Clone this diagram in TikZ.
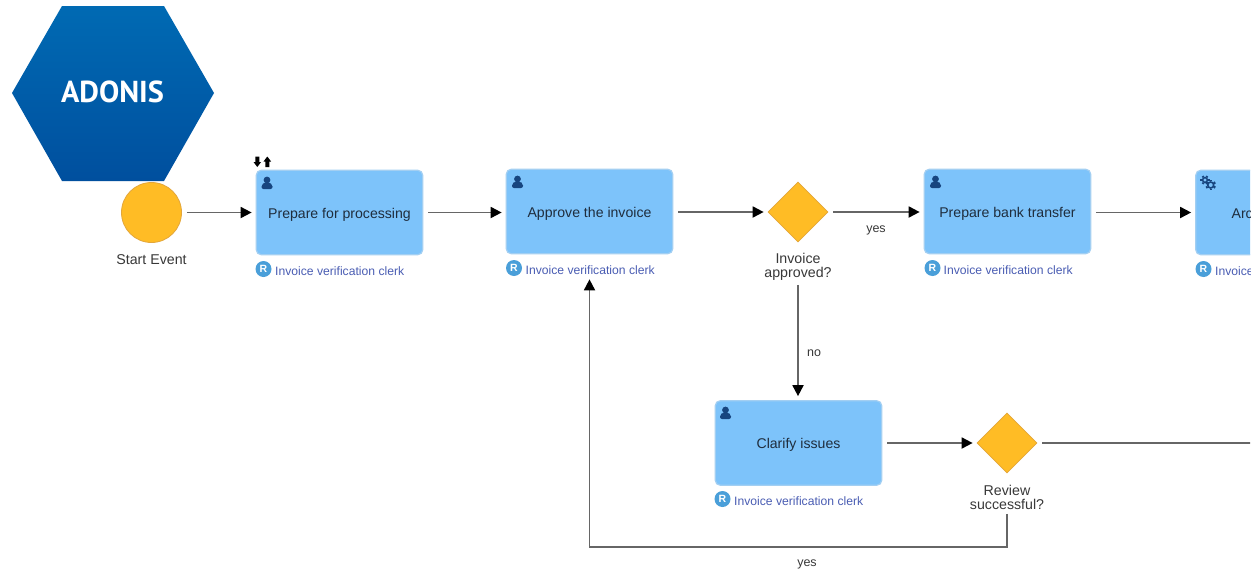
\documentclass[tikz,border=0pt]{standalone}
\usepackage{fontspec}
\setmainfont{Liberation Sans}
\newfontfamily\logofont{PT Sans}
\usetikzlibrary{arrows.meta,shapes.geometric}
\definecolor{boxfill}{HTML}{7DC3FA}
\definecolor{boxline}{HTML}{A3CFF2}
\definecolor{gold}{HTML}{FFBC25}
\definecolor{goldline}{HTML}{E3A63A}
\definecolor{flow}{HTML}{666666}
\definecolor{ink}{HTML}{1F2D3D}
\definecolor{labelink}{HTML}{383838}
\definecolor{rolecol}{HTML}{4A5DB3}
\definecolor{badge}{HTML}{4A9FD9}
\definecolor{icon}{HTML}{17457F}
\definecolor{hextop}{HTML}{006AB3}
\definecolor{hexbot}{HTML}{004F9E}
\tikzset{
  taskbox/.style={draw=boxline,line width=1.2pt,fill=boxfill,rounded corners=5pt,minimum width=166.5pt,minimum height=84.5pt,inner sep=0pt,text=ink,font=\fontsize{14.1}{16}\selectfont},
  gatenode/.style={diamond,draw=goldline,line width=.7pt,fill=gold,minimum width=60pt,minimum height=60pt,inner sep=0pt,aspect=1},
  eventnode/.style={circle,draw=goldline,line width=.8pt,fill=gold,minimum size=60pt,inner sep=0pt},
  caption/.style={text=labelink,font=\fontsize{14.2}{14}\selectfont,align=center,inner sep=0pt},
  flowlabel/.style={text=labelink,font=\fontsize{12.5}{14}\selectfont,inner sep=0pt},
  rolelabel/.style={text=rolecol,font=\fontsize{12.15}{14}\selectfont,inner sep=0pt,anchor=west},
  rolebadge/.style={circle,fill=badge,minimum size=16pt,inner sep=0pt,text=white,font=\fontsize{10.5}{10}\selectfont\bfseries},
  flowline/.style={draw=flow,line width=1.8pt,-{Triangle[length=11pt,width=11pt,fill=black,color=black]},shorten <=5pt,shorten >=4pt},
  plainline/.style={draw=flow,line width=1.8pt},
}
\newcommand{\tasktext}[1]{\raisebox{-5.5pt}[0pt][0pt]{#1}}
\newcommand{\personicon}[1]{%
  \fill[icon] ([shift={(0,-3)}]#1) circle (3.4pt);
  \fill[icon,rounded corners=2pt] ([shift={(-5.5,6)}]#1) -- ([shift={(-5.5,1.5)}]#1) -- ([shift={(-2.5,-0.5)}]#1) -- ([shift={(2.5,-0.5)}]#1) -- ([shift={(5.5,1.5)}]#1) -- ([shift={(5.5,6)}]#1) -- cycle;
}
\begin{document}
\begin{tikzpicture}[x=1pt,y=-1pt]
\useasboundingbox (0,0) rectangle (1254,573);
\fill[white] (0,0) rectangle (1254,573);
\clip (0,0) rectangle (1250,573);
% logo
\shade[top color=hextop,bottom color=hexbot] (12,93) -- (62,6) -- (164,6) -- (214,93) -- (164,181) -- (62,181) -- cycle;
\node[text=white,font=\logofont\fontsize{30.3}{31}\selectfont\bfseries,inner sep=0pt] (logo) at (112.5,92) {ADONIS};
% nodes
\node[eventnode] (start) at (151.5,212.5) {};
\node[caption] (startlbl) at (151.5,260) {Start Event};
\node[taskbox] (prep) at (339.5,212.5) {\tasktext{Prepare for processing}};
\node[taskbox] (appr) at (589.5,211.5) {\tasktext{Approve the invoice}};
\node[gatenode] (gw1) at (798,212) {};
\node[caption] (gw1lbl) at (798,267) {Invoice\\approved?};
\node[taskbox] (bank) at (1007.5,211.5) {\tasktext{Prepare bank transfer}};
\node[taskbox] (arch) at (1279,212.5) {\tasktext{Archive invoice}};
\node[taskbox] (clar) at (798.5,443) {\tasktext{Clarify issues}};
\node[gatenode] (gw2) at (1007,443) {};
\node[caption] (gw2lbl) at (1007,497.5) {Review\\successful?};
\coordinate (offpage) at (1270,443);
\coordinate (loopturn) at (589.5,547);
% role badges and labels
\node[rolebadge] (r1) at (263.5,269) {R};
\node[rolelabel] (r1t) at (275,271.5) {Invoice verification clerk};
\node[rolebadge] (r2) at (514,268) {R};
\node[rolelabel] (r2t) at (525.5,270.5) {Invoice verification clerk};
\node[rolebadge] (r3) at (932.5,268) {R};
\node[rolelabel] (r3t) at (943.5,270.5) {Invoice verification clerk};
\node[rolebadge] (r4) at (1203.5,269) {R};
\node[rolelabel] (r4t) at (1215,271.5) {Invoice verification clerk};
\node[rolebadge] (r5) at (722.5,499) {R};
\node[rolelabel] (r5t) at (734,501.5) {Invoice verification clerk};
% icons
\personicon{267,183}
\personicon{517.5,182}
\personicon{935.5,182}
\personicon{725.5,413}
% gears
\draw[icon,line width=1.5pt] (1205,180) circle (2.4pt);
\foreach \a in {0,60,...,300}{\draw[icon,line width=2pt] (1205,180) ++(\a:3) -- ++(\a:1.6);}
\draw[icon,line width=1.6pt] (1210.7,185) circle (3pt);
\foreach \a in {30,90,...,330}{\draw[icon,line width=2.2pt] (1210.7,185) ++(\a:3.6) -- ++(\a:1.7);}
% up/down arrows above first task
\fill[black] (255.3,156.5) rectangle (259.3,162) (253.5,162) -- (261.1,162) -- (257.3,167) -- cycle;
\fill[black] (265.3,161.5) rectangle (269.3,167) (263.5,161.5) -- (271.1,161.5) -- (267.3,156.5) -- cycle;
% connectors
\draw[flowline] (start) -- (prep);
\draw[flowline] (prep) -- (prep -| appr.west);
\draw[flowline] (appr.east |- gw1) -- (gw1);
\draw[flowline] (gw1) -- (gw1 -| bank.west);
\draw[flowline] (bank.east |- arch) -- (arch.west);
\draw[flowline,shorten <=4pt] (gw1lbl.south) -- (gw1lbl.south |- clar.north);
\draw[flowline] (clar) -- (gw2);
\draw[plainline,shorten <=5pt] (gw2) -- (offpage);
\draw[flowline,shorten <=4pt,shorten >=25pt] (gw2lbl.south) |- (loopturn) -- (appr.south);
% flow labels
\node[flowlabel] (yes1) at (876,230) {yes};
\node[flowlabel] (no1) at (814,353) {no};
\node[flowlabel] (yes2) at (807,564) {yes};
\end{tikzpicture}
\end{document}
